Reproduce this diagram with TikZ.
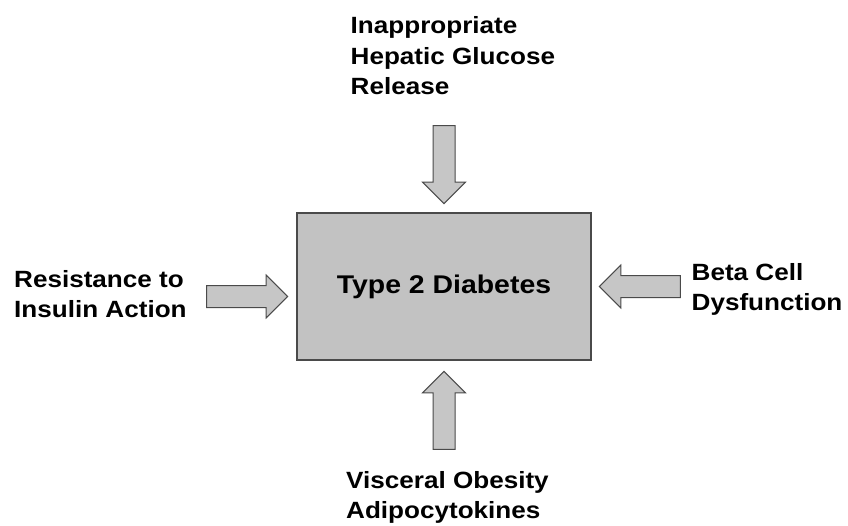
\documentclass[tikz,border=0pt]{standalone}
\usepackage{fontspec}
\usepackage{tikz}
\usetikzlibrary{positioning,shapes.arrows}
\newfontfamily\diafont{Liberation Sans}[FakeStretch=1.11]
\definecolor{BoxFill}{HTML}{C2C2C2}
\definecolor{BoxLine}{HTML}{4A4A4A}
\definecolor{ArrFill}{HTML}{C6C6C6}
\tikzset{x=1pt,y=-1pt,
 label/.style={font=\diafont\bfseries\fontsize{23.5}{30.5}\selectfont,
  inner sep=0pt,align=left,anchor=north west},
 diabox/.style={draw=BoxLine,fill=BoxFill,line width=1.3pt,minimum width=294pt,
  minimum height=147pt,font=\diafont\bfseries\fontsize{25.6}{30}\selectfont},
 fatarrow/.style={single arrow,draw=BoxLine,fill=ArrFill,line width=1pt,
  inner sep=10.5pt,minimum height=81pt,
  single arrow head extend=10.5pt,single arrow tip angle=90}}
\begin{document}
\begin{tikzpicture}
\useasboundingbox (0,0) rectangle (848,525);
\node[diabox] (t2d) at (444,286.5) {Type 2 Diabetes};
% arrows into the box
\node[fatarrow,left=8pt of t2d,yshift=-10pt] (arrL) {};
\node[fatarrow,shape border rotate=180,right=7pt of t2d] (arrR) {};
\node[fatarrow,shape border rotate=270,above=8pt of t2d,minimum height=78pt] (arrT) {};
\node[fatarrow,shape border rotate=90,below=10pt of t2d,minimum height=78pt] (arrB) {};
% causes
\node[label] (insulin) at (14,270) {Resistance to\\Insulin Action};
\node[label] (beta) at (691.5,263) {Beta Cell\\Dysfunction};
\node[label] (hepatic) at (350.5,16.7) {Inappropriate\\Hepatic Glucose\\Release};
\node[label] (visceral) at (346,471) {Visceral Obesity\\Adipocytokines};
\end{tikzpicture}
\end{document}
